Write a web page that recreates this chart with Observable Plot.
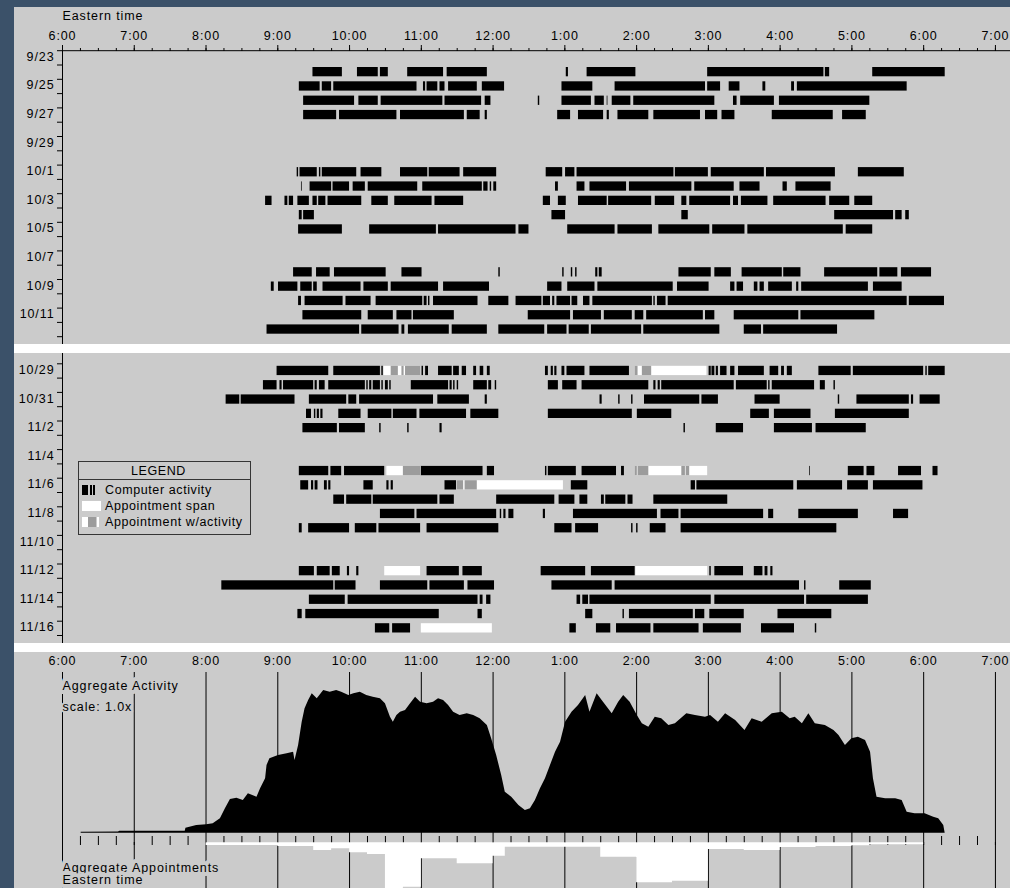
<!DOCTYPE html>
<html><head><meta charset="utf-8">
<script src="https://cdn.jsdelivr.net/npm/d3@7"></script>
<script src="https://cdn.jsdelivr.net/npm/@observablehq/plot@0.6"></script>
<style>
html,body{margin:0;padding:0;background:#3b5169;}
#page{position:relative;width:1010px;height:888px;overflow:hidden;background:#3b5169;font-family:"Liberation Sans",Arial,Helvetica,sans-serif;}
#panel{position:absolute;left:14px;top:7px;width:996px;height:881px;background:#cbcbcb;}
.sep{position:absolute;left:14px;width:996px;background:#fff;}
.abs{position:absolute;left:14px;}
#legend{position:absolute;left:78px;top:461px;width:171px;height:72px;border:1px solid #353535;font-size:12.5px;letter-spacing:0.6px;color:#000;}
#legend .hd{height:17px;line-height:18px;border-bottom:1px solid #353535;text-align:center;padding-right:12px;}
#legend .row{height:16px;line-height:16px;position:relative;padding-left:26px;white-space:nowrap;}
#legend .sw{position:absolute;left:3px;top:3px;height:10px;width:20px;}
#legend .sw span{position:absolute;top:0;height:10px;}
</style></head><body><div id="page"><div id="panel"></div></div>
<script>
// ---------- data ----------
const topDays = ["9/23","9/24","9/25","9/26","9/27","9/28","9/29","9/30","10/1","10/2","10/3","10/4","10/5","10/6","10/7","10/8","10/9","10/10","10/11","10/12"];
const topLabels = ["9/23","9/25","9/27","9/29","10/1","10/3","10/5","10/7","10/9","10/11"];
const midDays = ["10/28","10/29","10/30","10/31","11/1","11/2","11/3","11/4","11/5","11/6","11/7","11/8","11/9","11/10","11/11","11/12","11/13","11/14","11/15","11/16"];
const midLabels = ["10/29","10/31","11/2","11/4","11/6","11/8","11/10","11/12","11/14","11/16"];
const hourTicks = [6,7,8,9,10,11,12,13,14,15,16,17,18,19];

// computer activity, [day, start, end, start, end, ...] in decimal hours (Eastern time)
const topActivity = [
 ["9/24", 9.49,9.90, 10.11,10.40, 10.43,10.54, 10.81,11.31, 11.36,11.92, 13.02,13.05, 13.31,13.99, 14.99,16.61, 16.63,16.69, 17.29,18.30],
 ["9/25", 9.30,9.59, 9.62,9.75, 9.78,10.94, 11.03,11.06, 11.08,11.23, 11.26,11.33, 11.38,11.78, 11.85,12.16, 12.96,13.39, 13.70,14.96, 14.99,15.17, 15.29,15.44, 15.76,15.80, 16.16,16.20, 16.24,17.77],
 ["9/26", 9.36,10.07, 10.13,10.40, 10.44,11.30, 11.33,11.84, 11.89,11.97, 12.63,12.65, 12.96,13.37, 13.42,13.55, 13.59,13.60, 13.66,13.92, 13.96,15.09, 15.35,15.40, 15.45,15.92, 15.99,17.25],
 ["9/27", 9.36,9.82, 9.86,10.66, 10.71,11.60, 11.64,11.82, 11.89,11.92, 12.90,13.08, 13.19,13.54, 13.59,13.62, 13.74,14.17, 14.24,14.89, 14.96,15.13, 15.19,15.37, 15.89,16.74, 16.87,17.20],
 ["10/1", 9.27,9.29, 9.31,9.55, 9.58,9.60, 9.62,10.10, 10.16,10.45, 10.71,11.09, 11.11,11.54, 11.59,12.05, 12.74,12.97, 13.01,13.14, 13.17,14.52, 14.54,15.00, 15.04,15.78, 15.81,16.77, 17.09,17.73],
 ["10/2", 9.33,9.34, 9.45,9.75, 9.77,10.00, 10.05,10.22, 10.26,10.95, 11.02,11.85, 11.87,11.93, 11.96,11.98, 12.01,12.05, 12.87,12.91, 13.17,13.28, 13.35,13.86, 13.90,14.77, 14.81,15.36, 15.44,15.72, 16.04,16.10, 16.22,16.71],
 ["10/3", 8.83,8.92, 9.10,9.14, 9.16,9.22, 9.28,9.44, 9.49,9.55, 9.57,9.67, 9.70,10.17, 10.31,10.54, 10.63,11.15, 11.19,11.59, 12.70,12.80, 12.91,13.02, 13.19,13.59, 13.61,14.21, 14.26,14.53, 14.63,14.70, 14.74,15.31, 15.35,15.42, 15.46,15.83, 15.91,16.64, 16.69,16.97, 17.04,17.29],
 ["10/4", 9.30,9.34, 9.36,9.51, 12.82,13.01, 14.63,14.72, 16.76,17.58, 17.61,17.70, 17.75,17.80],
 ["10/5", 9.29,9.90, 10.28,11.21, 11.24,12.32, 12.36,12.50, 13.04,13.70, 13.74,14.22, 14.31,15.02, 15.06,15.51, 15.55,16.88, 16.92,17.29],
 ["10/8", 9.22,9.48, 9.54,9.73, 9.79,10.51, 10.73,11.01, 12.08,12.10, 12.97,12.99, 13.09,13.11, 13.15,13.17, 13.43,13.46, 13.48,13.52, 14.59,15.04, 15.09,15.32, 15.47,16.03, 16.05,16.29, 16.62,17.36, 17.39,17.64, 17.69,18.11],
 ["10/9", 8.91,8.95, 9.01,9.28, 9.32,9.48, 9.50,9.55, 9.63,10.16, 10.20,10.54, 10.58,11.24, 11.31,11.95, 12.76,12.96, 13.04,13.42, 13.46,14.51, 14.57,15.01, 15.31,15.37, 15.40,15.49, 15.64,15.69, 15.72,15.78, 15.84,16.17, 16.23,16.26, 16.30,17.23, 17.30,17.70],
 ["10/10", 9.29,9.33, 9.38,9.91, 9.95,10.30, 10.37,11.02, 11.04,11.08, 11.10,11.12, 11.17,11.79, 11.94,12.22, 12.32,12.68, 12.70,12.80, 12.83,12.86, 12.89,13.08, 13.10,13.18, 13.26,13.35, 13.39,14.22, 14.24,14.26, 14.29,14.41, 14.44,17.77, 17.80,18.29],
 ["10/11", 9.35,10.17, 10.26,10.61, 10.66,10.87, 10.89,11.46, 12.49,13.08, 13.12,13.51, 13.55,13.94, 13.98,14.10, 14.14,14.93, 14.96,15.09, 15.36,16.26, 16.29,17.32],
 ["10/12", 8.85,10.14, 10.17,10.69, 10.73,10.77, 10.82,11.39, 11.43,11.92, 12.08,12.72, 12.76,13.03, 13.06,13.34, 13.37,14.07, 14.10,15.16, 15.50,15.74, 15.77,16.80]
];
const midActivity = [
 ["10/29", 8.99,9.71, 9.78,10.43, 10.45,10.47, 11.01,11.03, 11.06,11.10, 11.24,11.43, 11.45,11.53, 11.57,11.63, 11.73,11.77, 11.82,11.87, 11.92,11.96, 12.73,12.77, 12.81,12.84, 12.86,12.89, 12.96,13.00, 13.03,13.28, 13.35,13.90, 15.01,15.04, 15.05,15.09, 15.11,15.14, 15.17,15.26, 15.31,15.37, 15.42,15.78, 15.86,15.98, 16.02,16.06, 16.10,16.17, 16.54,16.99, 17.02,18.00, 18.03,18.05, 18.07,18.30],
 ["10/30", 8.80,8.99, 9.03,9.06, 9.08,9.50, 9.52,9.55, 9.58,9.66, 9.71,10.22, 10.24,10.26, 10.28,10.31, 10.33,10.43, 10.45,10.47, 10.50,10.54, 10.56,10.58, 10.86,11.38, 11.40,11.43, 11.45,11.47, 11.50,11.52, 11.73,11.92, 11.94,11.98, 12.03,12.05, 12.77,12.91, 12.97,13.17, 13.24,14.17, 14.24,14.27, 14.30,14.33, 14.35,15.36, 15.39,15.82, 15.84,15.86, 15.89,16.48, 16.56,16.63, 16.75,16.77],
 ["10/31", 8.28,8.47, 8.49,9.24, 9.44,9.96, 9.99,10.10, 10.14,11.17, 11.23,11.67, 11.89,11.92, 13.49,13.52, 13.75,13.77, 13.93,13.95, 14.11,14.88, 14.91,15.14, 15.65,16.00, 16.81,16.83, 17.07,17.80, 17.83,17.86, 17.95,18.23],
 ["11/1", 9.40,9.47, 9.51,9.53, 9.55,9.58, 9.60,9.63, 9.85,10.16, 10.26,10.59, 10.61,10.94, 10.98,11.63, 11.69,12.08, 12.77,13.94, 14.01,14.49, 15.59,15.85, 15.92,16.43, 16.77,17.80],
 ["11/2", 9.35,9.83, 9.86,10.22, 10.42,10.44, 10.81,10.83, 11.26,11.29, 14.66,14.68, 15.11,15.49, 15.92,16.45, 16.50,17.20],
 ["11/5", 9.30,9.71, 9.74,9.89, 9.93,10.49, 11.00,11.86, 11.92,12.02, 12.73,12.75, 12.77,13.16, 13.24,13.72, 13.79,13.83, 16.41,16.42, 16.95,17.17, 17.21,17.32, 17.65,17.97, 18.13,18.20],
 ["11/6", 9.32,9.43, 9.47,9.50, 9.52,9.56, 9.65,9.69, 9.71,9.74, 10.20,10.33, 10.52,10.55, 10.58,10.61, 11.33,11.49, 13.09,13.32, 14.76,14.82, 14.84,16.19, 16.24,16.87, 16.94,17.23, 17.30,17.99],
 ["11/7", 9.78,9.93, 9.96,10.31, 10.33,11.23, 11.26,11.46, 12.05,12.86, 12.92,13.14, 13.21,13.32, 13.51,13.55, 13.57,13.85, 13.88,13.95, 14.24,15.27],
 ["11/8", 10.43,10.91, 10.94,12.05, 12.10,12.12, 12.15,12.18, 12.22,12.29, 12.70,12.73, 13.12,14.29, 14.34,14.59, 14.62,15.77, 15.84,15.91, 16.26,17.09, 17.58,17.79],
 ["11/9", 9.30,9.34, 9.43,10.00, 10.08,10.38, 10.41,10.99, 11.08,12.08, 12.86,13.10, 13.15,13.47, 13.93,13.95, 14.00,14.02, 14.19,14.41, 14.62,16.79],
 ["11/12", 9.30,9.51, 9.55,9.73, 9.76,9.87, 9.97,10.00, 10.10,10.13, 11.08,11.53, 11.58,11.85, 12.67,13.29, 13.37,13.98, 15.02,15.04, 15.09,15.49, 15.64,15.76, 15.79,15.83, 15.87,15.90],
 ["11/13", 8.22,9.78, 9.80,10.09, 10.43,11.09, 11.12,11.60, 11.65,12.02, 12.82,13.66, 13.70,16.27, 16.34,16.36, 16.83,17.27],
 ["11/14", 9.44,9.94, 9.98,11.79, 11.82,11.86, 11.91,11.97, 13.17,13.22, 13.25,13.33, 13.35,15.04, 15.09,16.34, 16.37,17.23],
 ["11/15", 9.28,9.34, 9.39,11.25, 11.79,11.85, 13.29,13.39, 13.81,13.83, 13.90,14.79, 14.82,14.95, 15.02,15.50, 15.97,16.72],
 ["11/16", 10.36,10.56, 10.60,10.85, 13.07,13.16, 13.44,13.64, 13.72,14.20, 14.24,14.87, 14.93,15.46, 15.74,16.20, 16.49,16.51]
];
// appointment spans (white) and activity during appointments (gray)
const midAppointments = [
 ["10/29", 10.48,10.99, 13.98,14.98],
 ["11/5", 10.52,10.99, 13.98,14.99],
 ["11/6", 11.50,12.98],
 ["11/12", 10.49,10.99, 13.99,14.99],
 ["11/16", 11.00,11.99]
];
const midApptActivity = [
 ["10/29", 10.58,10.68, 10.73,10.76, 10.78,10.99, 13.98,14.02, 14.08,14.21],
 ["11/5", 10.75,10.99, 13.98,14.01, 14.02,14.17, 14.63,14.68, 14.69,14.74],
 ["11/6", 11.50,11.59, 11.61,11.78]
];
// aggregate activity profile [time, level]
const aggregateActivity = [[6.26,1],[6.78,1.2],[6.80,2],[7.71,2],[7.72,5],[7.87,7.7],[8.01,8.4],[8.10,9.4],[8.20,14.4],[8.27,24.4],[8.34,33.7],[8.43,35],[8.52,32.7],[8.59,39.4],[8.71,36],[8.76,44.4],[8.83,54.4],[8.85,67.7],[8.89,74.4],[9.01,77.7],[9.13,79.4],[9.22,81],[9.24,72.7],[9.29,87.7],[9.34,111],[9.38,124.4],[9.43,132.7],[9.48,139.4],[9.55,134.4],[9.64,142.7],[9.73,141],[9.82,142.7],[9.89,141],[9.99,137.7],[10.06,139.4],[10.15,141],[10.24,137.7],[10.33,136],[10.43,134.4],[10.50,129.4],[10.57,116],[10.61,111],[10.66,117.7],[10.71,121],[10.78,122.7],[10.85,129.4],[10.92,136],[10.99,131],[11.08,129.4],[11.17,131],[11.24,134.4],[11.31,132.7],[11.38,127.7],[11.45,121],[11.54,117.7],[11.64,119.4],[11.73,117.7],[11.82,114.4],[11.92,107.7],[11.98,94.4],[12.05,77.7],[12.12,57.7],[12.17,41],[12.26,36],[12.36,27.7],[12.45,22.7],[12.52,24.4],[12.59,32.7],[12.66,44.4],[12.73,54.4],[12.80,67.7],[12.87,81],[12.94,91],[13.01,111],[13.10,121],[13.19,127.7],[13.29,137.7],[13.35,121],[13.45,139.4],[13.52,132.7],[13.66,119.4],[13.75,131],[13.82,137.7],[13.91,131],[14.01,117.7],[14.08,109.4],[14.17,106],[14.26,116],[14.35,114.4],[14.45,107.7],[14.54,109.4],[14.70,119.4],[14.82,117.7],[14.96,116],[15.03,117.7],[15.14,111],[15.24,119.4],[15.38,112.7],[15.51,102.7],[15.61,114.4],[15.75,111],[15.89,119.4],[16.03,121],[16.14,114.4],[16.21,116],[16.31,109.4],[16.40,119.4],[16.49,109.4],[16.63,107.7],[16.75,102.7],[16.82,97.7],[16.91,87.7],[17.00,94.4],[17.09,96],[17.19,92.7],[17.26,81],[17.30,54.4],[17.35,36],[17.47,34.4],[17.61,34.4],[17.70,32.7],[17.77,21],[17.88,19.4],[18.02,19.4],[18.14,16],[18.21,14.4],[18.28,7.7],[18.30,0]];
// aggregate appointments: bin start time and level
const apptTimes = [8.00, 9.00, 9.50, 9.75, 10.00, 10.25, 10.50, 10.75, 11.00, 11.50, 12.00, 12.17, 13.50, 14.00, 14.50, 15.00, 15.50, 16.00, 16.50, 17.00, 17.25, 18.00];
const apptLevels = [2.7, 3.7, 7.7, 6, 10, 11.7, 50, 44.4, 16, 21, 13.4, 4.4, 14.4, 40, 38.4, 6.7, 7.7, 4.7, 3.7, 3, 2, 0];
const legendItems = ["Computer activity", "Appointment span", "Appointment w/activity"];

// ---------- helpers ----------
const X0 = 6, X1 = 19.21, W = 996, ML = 48;
const GRAY = "#cbcbcb";
const hourLabel = h => `${(h + 11) % 12 + 1}:00`;
const quarters = d3.range(6, 19.001, 0.25);
const quartersOnly = quarters.filter(q => q % 1 !== 0);
const style = {fontFamily: '"Liberation Sans", Arial, Helvetica, sans-serif', fontSize: "12.5px", letterSpacing: "0.9px", background: "transparent", color: "#000"};

function expand(rows, days) {
  const out = [];
  for (const [day, ...v] of rows) {
    const i = days.indexOf(day);
    for (let k = 0; k < v.length; k += 2) out.push({day, i, start: v[k], end: v[k + 1]});
  }
  return out;
}
const bar = (data, fill) => Plot.rect(data, {x1: "start", x2: "end", y1: d => d.i + 0.175, y2: d => d.i + 0.825, fill});

function dayPanel({days, labels, layers, height, marginTop, yRange, axis}) {
  const marks = [];
  if (axis) {
    marks.push(Plot.ruleY([0], {stroke: "#000"}));
    marks.push(Plot.axisX({anchor: "top", ticks: quarters, tickSize: 3, tickFormat: () => "", label: null}));
    marks.push(Plot.axisX({anchor: "top", ticks: hourTicks, tickSize: 6, tickPadding: 5, tickFormat: hourLabel, label: null}));
    marks.push(Plot.text(["Eastern time"], {x: X0, frameAnchor: "top", lineAnchor: "middle", dy: -35, textAnchor: "start"}));
  }
  marks.push(Plot.ruleX([X0], {stroke: "#000"}));
  marks.push(Plot.axisY({ticks: d3.range(days.length + 1), tickSize: 5, tickFormat: () => "", label: null}));
  marks.push(Plot.axisY({ticks: labels.map(l => days.indexOf(l) + 0.5), tickSize: 0, tickPadding: 8, dy: -1, tickFormat: v => days[v - 0.5], label: null}));
  for (const [data, fill] of layers) marks.push(bar(expand(data, days), fill));
  return Plot.plot({
    width: W, height, marginLeft: ML, marginRight: 0, marginTop, marginBottom: 0,
    x: {domain: [X0, X1], label: null, axis: null},
    y: {domain: [0, days.length], range: yRange, label: null, axis: null},
    style, marks
  });
}

const page = document.getElementById("page");
function place(el, top) { el.classList.add("abs"); el.style.top = top + "px"; page.appendChild(el); }

// top panel
place(dayPanel({days: topDays, labels: topLabels, layers: [[topActivity, "#000"]], height: 337, marginTop: 43, yRange: [43.2, 329.2], axis: true}), 7);
// middle panel
place(dayPanel({days: midDays, labels: midLabels, layers: [[midActivity, "#000"], [midAppointments, "#fff"], [midApptActivity, "#9c9c9c"]], height: 290, marginTop: 0, yRange: [-4, 282], axis: false}), 353);

// aggregate activity
const halo = {x: X0, frameAnchor: "top", lineAnchor: "middle", textAnchor: "start", fill: "#000", stroke: GRAY, strokeWidth: 8};
place(Plot.plot({
  width: W, height: 193, marginLeft: ML, marginRight: 0, marginTop: 20, marginBottom: 0,
  x: {domain: [X0, X1], label: null, axis: null},
  y: {domain: [0, 160.7], range: [180.7, 20], label: null, axis: null},
  style,
  marks: [
    Plot.ruleX(hourTicks, {stroke: "#000"}),
    Plot.ruleX(quartersOnly, {stroke: "#000", insetTop: 164}),
    Plot.areaY(aggregateActivity, {x: d => d[0], y: d => d[1], fill: "#000"}),
    Plot.axisX({anchor: "top", ticks: hourTicks, tickSize: 0, tickPadding: 8, tickFormat: hourLabel, label: null}),
    Plot.text(["Aggregate Activity"], {...halo, dy: 13}),
    Plot.text(["scale: 1.0x"], {...halo, strokeWidth: 4, dy: 34})
  ]
}), 652);

// aggregate appointments
const appts = apptTimes.map((t, i) => ({t, v: apptLevels[i]}));
place(Plot.plot({
  width: W, height: 46, marginLeft: ML, marginRight: 0, marginTop: 0, marginBottom: 0,
  x: {domain: [X0, X1], label: null, axis: null},
  y: {domain: [0, 45.7], range: [0.3, 46], label: null, axis: null},
  style,
  marks: [
    Plot.ruleX(hourTicks, {stroke: "#000"}),
    Plot.areaY(appts, {x: "t", y: "v", fill: "#fff", curve: "step-after"}),
    Plot.text(["Aggregate Appointments"], {...halo, dy: 25}),
    Plot.text(["Eastern time"], {...halo, dy: 37})
  ]
}), 842);

// separators
for (const [top, h] of [[344, 9], [643, 9]]) {
  const d = document.createElement("div"); d.className = "sep"; d.style.top = top + "px"; d.style.height = h + "px"; page.appendChild(d);
}

// legend
const lg = document.createElement("div"); lg.id = "legend";
const hd = document.createElement("div"); hd.className = "hd"; hd.textContent = "LEGEND"; lg.appendChild(hd);
const swatches = [
  [["#000", 0, 6], ["#000", 8, 2], ["#000", 11, 2]],
  [["#fff", 0, 19]],
  [["#fff", 0, 6], ["#9c9c9c", 6, 8], ["#fff", 15, 2]]
];
legendItems.forEach((name, i) => {
  const r = document.createElement("div"); r.className = "row";
  if (i === 0) r.style.marginTop = "2px";
  const sw = document.createElement("div"); sw.className = "sw";
  for (const [c, l, w] of swatches[i]) { const s = document.createElement("span"); s.style.background = c; s.style.left = l + "px"; s.style.width = w + "px"; sw.appendChild(s); }
  r.appendChild(sw); r.appendChild(document.createTextNode(name)); lg.appendChild(r);
});
page.appendChild(lg);
</script>
</body></html>
